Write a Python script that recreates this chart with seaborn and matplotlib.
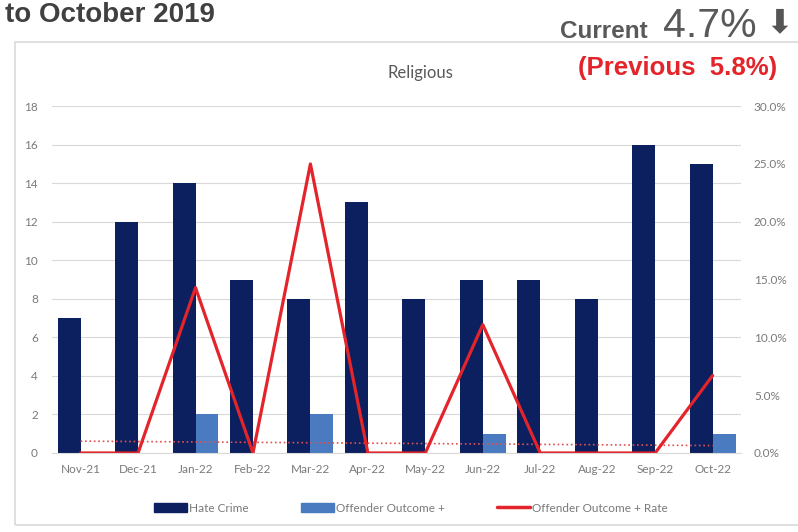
import numpy as np
import pandas as pd
import seaborn as sns
import matplotlib.pyplot as plt
from matplotlib.patches import Patch, Rectangle
from matplotlib.lines import Line2D

months = ['Nov-21', 'Dec-21', 'Jan-22', 'Feb-22', 'Mar-22', 'Apr-22',
          'May-22', 'Jun-22', 'Jul-22', 'Aug-22', 'Sep-22', 'Oct-22']
hate_crime = [7, 12, 14, 9, 8, 13, 8, 9, 9, 8, 16, 15]
outcome = [0, 0, 2, 0, 2, 0, 0, 1, 0, 0, 0, 1]
outcome_rate = [0.0, 0.0, 0.143, 0.0, 0.25, 0.0, 0.0, 0.111, 0.0, 0.0, 0.0, 0.067]

sns.set_style('white')
plt.rcParams['font.family'] = ['Lato', 'DejaVu Sans']

df = pd.DataFrame({
    'Month': months * 2,
    'Count': hate_crime + outcome,
    'Series': ['Hate Crime'] * 12 + ['Offender Outcome +'] * 12,
})

dark = '#0c1f5e'
light = '#4a7bc0'
red = '#e3242b'
txt = '#7a7a7a'

fig = plt.figure(figsize=(7.98, 5.32), dpi=100)
ax = fig.add_axes([0.065, 0.1485, 0.864, 0.652])

# chart border
fig.patches.append(Rectangle((15 / 798, 1 - 525 / 532), 790 / 798, 483 / 532,
                             transform=fig.transFigure, fill=False,
                             edgecolor='#d9d9d9', lw=1.2))

sns.barplot(data=df, x='Month', y='Count', hue='Series', ax=ax,
            palette=[dark, light], width=0.8, legend=False, saturation=1,
            linewidth=0)
ax.set_ylim(0, 18)
ax.set_yticks(range(0, 19, 2))
ax.set_xlim(-0.5, 11.5)
ax.grid(axis='y', color='#d9d9d9', lw=0.8)
ax.set_axisbelow(True)
ax.set_xlabel('')
ax.set_ylabel('')
ax.tick_params(axis='both', length=0, labelsize=8.5, labelcolor=txt)
ax.tick_params(axis='x', pad=8)
ax.tick_params(axis='y', pad=10)
for s in ['top', 'right', 'left']:
    ax.spines[s].set_visible(False)
ax.spines['bottom'].set_color('#d9d9d9')

# trend line of offender outcome +
xs = np.arange(len(months))
k, b = np.polyfit(xs, outcome, 1)
ax.plot(xs, k * xs + b, color='#e05050', ls=':', lw=1.2)

ax2 = ax.twinx()
sns.lineplot(x=xs, y=outcome_rate, ax=ax2, color=red, lw=2.3)
ax2.set_ylim(0, 0.30)
ax2.set_yticks(np.arange(0, 0.31, 0.05))
ax2.set_yticklabels([f'{v * 100:.1f}%' for v in np.arange(0, 0.31, 0.05)])
ax2.tick_params(axis='y', length=0, labelsize=8.5, labelcolor=txt, pad=9)
for s in ['top', 'right', 'left', 'bottom']:
    ax2.spines[s].set_visible(False)

fig.text(420 / 798, 1 - 73 / 532, 'Religious', fontsize=12, color='#595959',
         ha='center', va='center')

handles = [Patch(color=dark), Patch(color=light), Line2D([], [], color=red, lw=2.5)]
fig.legend(handles, ['Hate Crime', 'Offender Outcome +', 'Offender Outcome + Rate'],
           loc='center', bbox_to_anchor=(411 / 798, 1 - 508 / 532), ncol=3,
           frameon=False, fontsize=8.5, labelcolor=txt,
           handlelength=2.8, handleheight=0.7, columnspacing=4.4, handletextpad=0.2)

# header texts
fig.text(5 / 798, 1 - 22 / 532, 'to October 2019', fontsize=20, fontweight='bold',
         color='#404040', family='Liberation Sans', va='baseline', ha='left')
fig.text(648 / 798, 1 - 38 / 532, 'Current', fontsize=17.5, fontweight='bold',
         color='#595959', family='Liberation Sans', va='baseline', ha='right')
fig.text(757 / 798, 1 - 37 / 532, '4.7%', fontsize=29.5,
         color='#595959', family='Liberation Sans', va='baseline', ha='right')
fig.text(779 / 798, 1 - 23 / 532, '\u2b07', fontsize=24,
         color='#555555', family='DejaVu Sans', va='center', ha='center')
fig.text(777 / 798, 1 - 68 / 532, '(Previous  5.8%)', fontsize=18.5, fontweight='bold',
         color=red, family='Liberation Sans', va='center', ha='right')

fig.savefig('out.png', dpi=100)
